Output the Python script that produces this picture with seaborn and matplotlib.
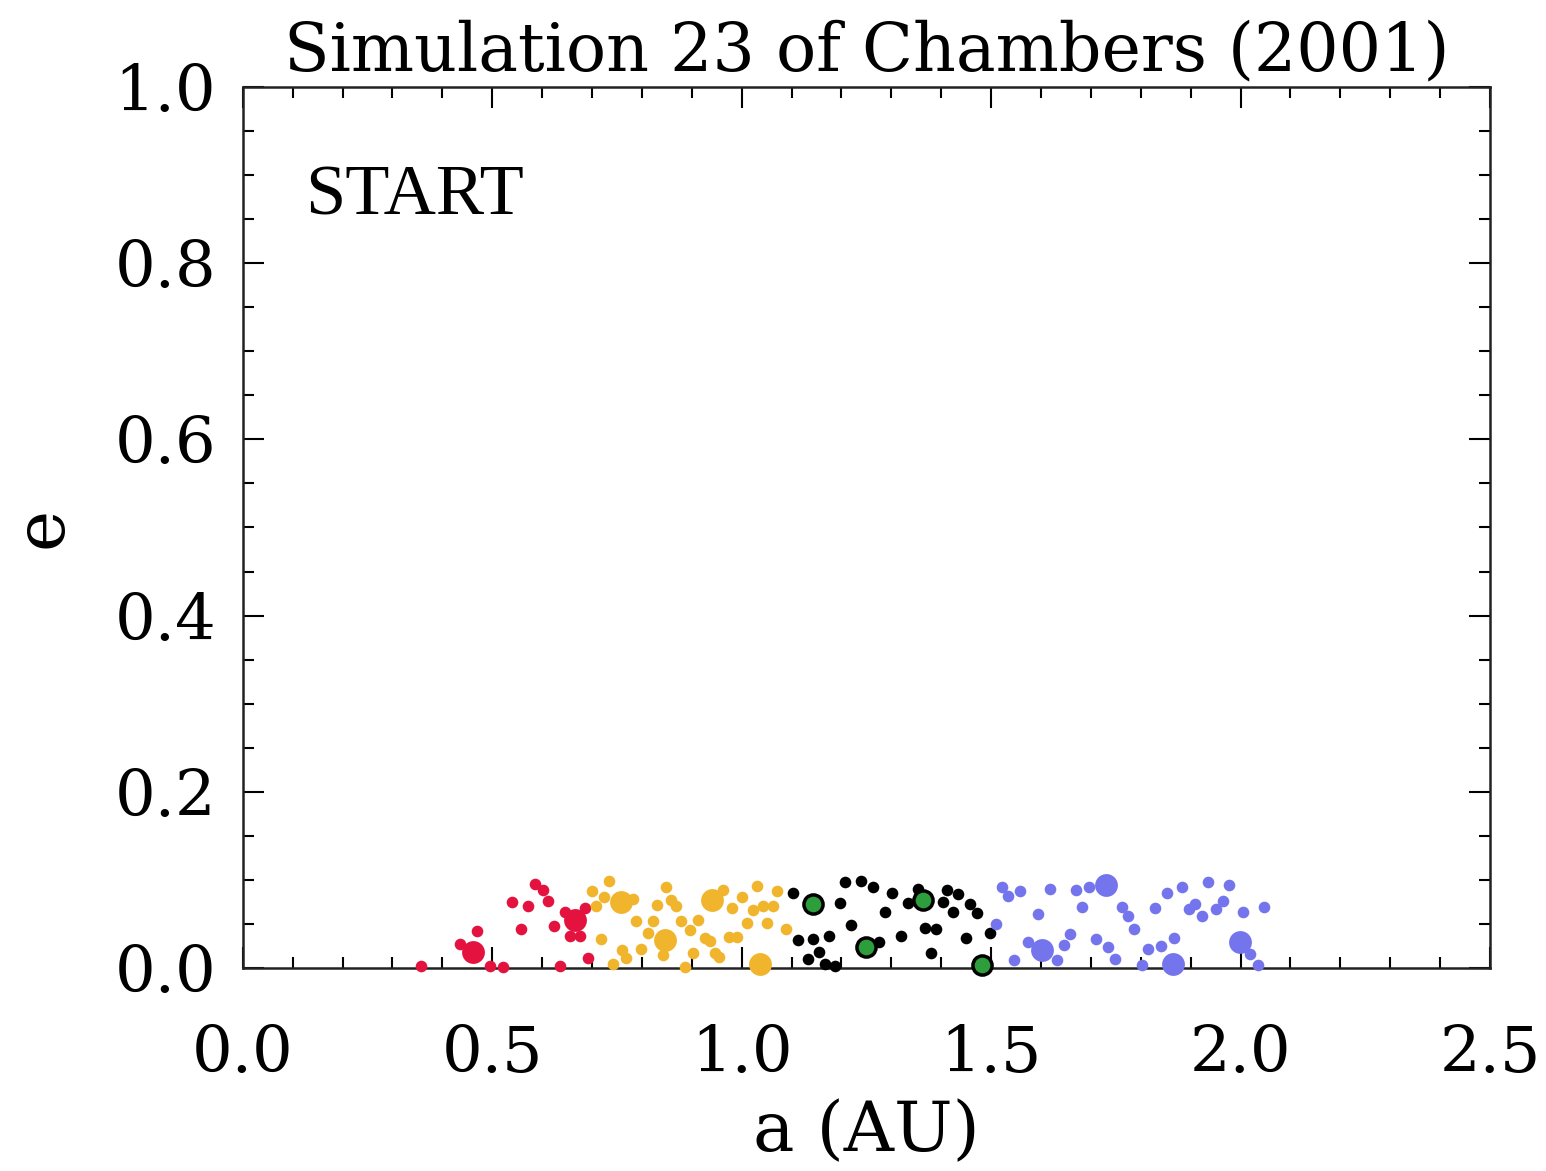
import matplotlib
matplotlib.use("Agg")
import matplotlib.pyplot as plt
from matplotlib.ticker import MultipleLocator
import seaborn as sns
import pandas as pd

# ---- data (semi-major axis a [AU], eccentricity e) ----
red_a = [0.358, 0.470, 0.435, 0.495, 0.521, 0.539, 0.557, 0.572, 0.585, 0.601,
         0.612, 0.624, 0.636, 0.646, 0.656, 0.676, 0.686, 0.692]
red_e = [0.002, 0.042, 0.027, 0.002, 0.001, 0.075, 0.044, 0.070, 0.095, 0.089,
         0.076, 0.048, 0.002, 0.063, 0.036, 0.036, 0.068, 0.011]
red_big_a = [0.462, 0.666]
red_big_e = [0.018, 0.054]

yel_a = [0.701, 0.734, 0.724, 0.709, 0.783, 0.788, 0.719, 0.761, 0.769, 0.742,
         0.799, 0.813, 0.823, 0.831, 0.849, 0.859, 0.868, 0.879, 0.896, 0.903,
         0.886, 0.843, 0.913, 0.962, 1.000, 0.980, 1.022, 1.031, 1.042, 1.062,
         1.070, 1.010, 1.051, 1.089, 0.926, 0.936, 0.975, 0.991, 0.946, 0.955]
yel_e = [0.087, 0.099, 0.081, 0.070, 0.078, 0.053, 0.033, 0.020, 0.011, 0.005,
         0.022, 0.040, 0.053, 0.072, 0.092, 0.077, 0.070, 0.053, 0.043, 0.017,
         0.001, 0.015, 0.054, 0.089, 0.081, 0.068, 0.066, 0.093, 0.070, 0.070,
         0.087, 0.051, 0.051, 0.044, 0.034, 0.031, 0.035, 0.035, 0.017, 0.012]
yel_big_a = [0.759, 0.846, 0.940, 1.036]
yel_big_e = [0.075, 0.032, 0.077, 0.005]

blk_a = [1.103, 1.207, 1.240, 1.264, 1.197, 1.220, 1.287, 1.113, 1.143, 1.175,
         1.155, 1.133, 1.167, 1.187, 1.275, 1.320, 1.302, 1.334, 1.353, 1.367,
         1.390, 1.379, 1.411, 1.434, 1.403, 1.424, 1.457, 1.471, 1.450, 1.498]
blk_e = [0.085, 0.097, 0.099, 0.092, 0.074, 0.049, 0.063, 0.032, 0.033, 0.036,
         0.018, 0.010, 0.005, 0.002, 0.030, 0.036, 0.085, 0.074, 0.090, 0.045,
         0.044, 0.017, 0.088, 0.084, 0.075, 0.064, 0.073, 0.062, 0.034, 0.040]

grn_a = [1.143, 1.250, 1.363, 1.481]
grn_e = [0.073, 0.024, 0.077, 0.003]

blu_a = [1.521, 1.534, 1.558, 1.510, 1.594, 1.619, 1.574, 1.546, 1.633, 1.646,
         1.658, 1.670, 1.697, 1.683, 1.710, 1.735, 1.748, 1.762, 1.775, 1.786,
         1.802, 1.815, 1.829, 1.840, 1.853, 1.866, 1.882, 1.897, 1.909, 1.922,
         1.935, 1.951, 1.964, 1.977, 2.004, 2.019, 2.034, 2.047]
blu_e = [0.092, 0.082, 0.087, 0.050, 0.061, 0.090, 0.030, 0.009, 0.009, 0.026,
         0.039, 0.088, 0.092, 0.069, 0.033, 0.024, 0.010, 0.069, 0.059, 0.044,
         0.003, 0.021, 0.068, 0.025, 0.085, 0.034, 0.092, 0.067, 0.073, 0.059,
         0.097, 0.067, 0.076, 0.094, 0.063, 0.016, 0.003, 0.069]
blu_big_a = [1.601, 1.730, 1.864, 1.999]
blu_big_e = [0.020, 0.094, 0.005, 0.030]

x_ticks = [0.0, 0.5, 1.0, 1.5, 2.0, 2.5]
y_ticks = [0.0, 0.2, 0.4, 0.6, 0.8, 1.0]
title = "Simulation 23 of Chambers (2001)"
label_text = "START"

RED, YEL, BLU, GRN = "#e3123f", "#f0b52c", "#7474ec", "#2e9e3c"

sns.set_theme(style="white")
plt.rcParams['font.family'] = ['DejaVu Serif']
plt.rcParams['text.color'] = 'black'
plt.rcParams['axes.labelcolor'] = 'black'
plt.rcParams['xtick.color'] = 'black'
plt.rcParams['ytick.color'] = 'black'

fig = plt.figure(figsize=(15.46, 11.71), dpi=100)
ax = fig.add_axes([0.157, 0.1734, 0.8068, 0.7523])

small = 70
big = 270

def pts(a, e, color, s, edge=None, lw=0):
    df = pd.DataFrame({"a": a, "e": e})
    sns.scatterplot(data=df, x="a", y="e", ax=ax, color=color, s=s,
                    edgecolor=edge if edge else color, linewidth=lw,
                    legend=False, clip_on=False, zorder=3)

pts(red_a, red_e, RED, small)
pts(red_big_a, red_big_e, RED, big)
pts(yel_a, yel_e, YEL, small)
pts(yel_big_a, yel_big_e, YEL, big)
pts(blk_a, blk_e, "black", small)
pts(grn_a, grn_e, GRN, 190, edge="black", lw=2.5)
pts(blu_a, blu_e, BLU, small)
pts(blu_big_a, blu_big_e, BLU, big)

ax.set_xlim(0, 2.5)
ax.set_ylim(0, 1.0)
ax.set_xticks(x_ticks)
ax.set_yticks(y_ticks)
ax.set_xticklabels([f"{v:.1f}" for v in x_ticks])
ax.set_yticklabels([f"{v:.1f}" for v in y_ticks])
ax.xaxis.set_minor_locator(MultipleLocator(0.1))
ax.yaxis.set_minor_locator(MultipleLocator(0.05))
ax.tick_params(which="both", direction="in", top=True, right=True,
               bottom=True, left=True, color="black", width=1.5,
               labelcolor="black")
ax.tick_params(which="major", length=15, labelsize=46, pad=19)
ax.tick_params(axis="x", which="major", pad=40)
ax.tick_params(which="minor", length=8)
for sp in ax.spines.values():
    sp.set_color("#222222")
    sp.set_linewidth(1.8)

ax.set_xlabel("a (AU)", fontsize=50, labelpad=10, color="black")
ax.set_ylabel("e", fontsize=50, labelpad=28, color="black")
ax.set_title(title, fontsize=48, pad=12, color="black")
ax.text(0.05, 0.875, label_text, transform=ax.transAxes, fontsize=52,
        family="Liberation Serif", ha="left", va="center", color="black")

fig.savefig("out.png", dpi=100, facecolor="white")
